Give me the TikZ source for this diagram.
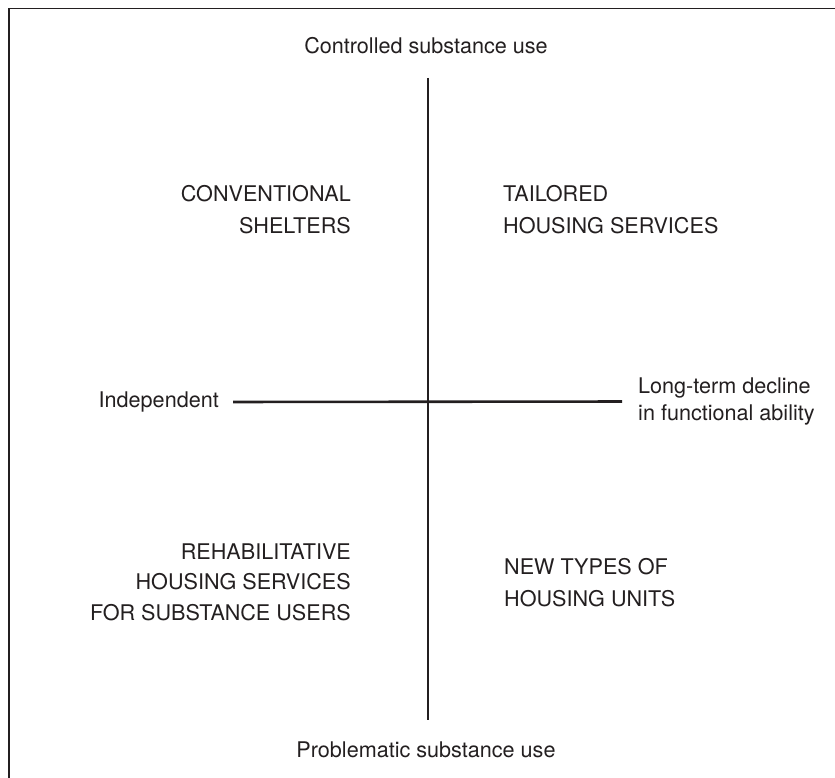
\documentclass[tikz,border=0pt]{standalone}
\usepackage{fontspec}
\setmainfont{TeX Gyre Heros}
\definecolor{ink}{HTML}{231F20}

\begin{document}
\begin{tikzpicture}[x=1pt, y=-1pt,
    lbl/.style={text=ink, inner sep=0pt, font=\fontsize{21.6}{32}\selectfont},
    axis/.style={draw=ink, line width=2.6pt}]
      \useasboundingbox (0,0) rectangle (835,778);
      \draw [draw=ink, line width=1.8pt] (9,778) -- (9,8.5) -- (835,8.5);

      % axis labels
      \draw (426, 46) node [lbl] (ctrl) {Controlled substance use};
      \draw (426, 750) node [lbl] (probl) {Problematic substance use};
      \draw (219, 402) node [lbl, anchor=east] (indep) {Independent};
      \draw (638, 401.5) node [lbl, anchor=west, align=left,
        font=\fontsize{21.6}{27}\selectfont] (decline)
        {Long-term decline\\in functional ability};

      % axes
      \coordinate (ax_top) at (428, 78);
      \coordinate (ax_bot) at (428, 720);
      \draw [axis] (ax_top) -- (ax_bot);
      \draw [axis, shorten <=14pt, shorten >=16pt] (indep.east) -- (decline.west);

      % quadrants
      \draw (351, 209.5) node [lbl, anchor=east, align=right] (shelters)
        {CONVENTIONAL\\SHELTERS};
      \draw (503, 209.5) node [lbl, anchor=west, align=left] (tailored)
        {TAILORED\\HOUSING SERVICES};
      \draw (351, 582) node [lbl, anchor=east, align=right, font=\fontsize{21.6}{30.5}\selectfont] (rehab)
        {REHABILITATIVE\\HOUSING SERVICES\\FOR SUBSTANCE USERS};
      \draw (504, 583) node [lbl, anchor=west, align=left] (newtypes)
        {NEW TYPES OF\\HOUSING UNITS};
\end{tikzpicture}
\end{document}
